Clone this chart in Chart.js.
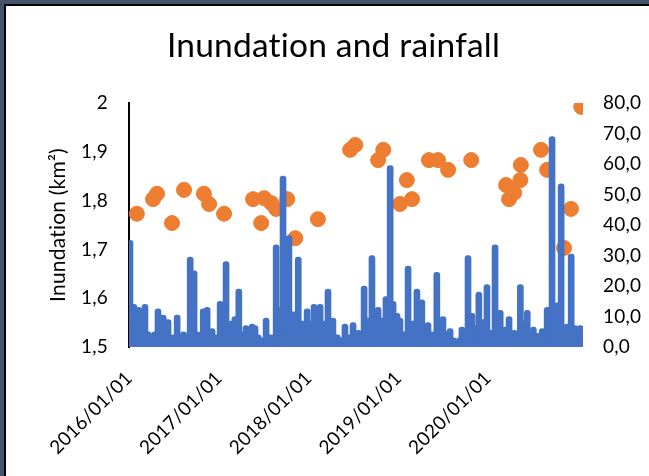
<!DOCTYPE html>
<html><head><meta charset="utf-8">
<script src="https://cdn.jsdelivr.net/npm/chart.js@4.4.1/dist/chart.umd.min.js"></script>
<style>
html,body{margin:0;padding:0;width:649px;height:476px;overflow:hidden;background:#44546A;}
#frame{position:absolute;left:4px;top:4px;width:645px;height:472px;background:#000;}
#inner{position:absolute;left:6px;top:6px;width:643px;height:470px;background:#fff;}
#wrap{position:absolute;left:0;top:0;width:649px;height:476px;}
</style></head><body>
<div id="frame"></div><div id="inner"></div>
<div id="wrap"><canvas id="c" width="649" height="476"></canvas></div>
<script>
// ---- data ----
const chartTitle = 'Inundation and rainfall';
const leftAxisTitle = 'Inundation (km\u00B2)';
const tickDates = ['2016-01-01','2017-01-01','2018-01-01','2019-01-01','2020-01-01'];
const tickLabels = ['2016/01/01','2017/01/01','2018/01/01','2019/01/01','2020/01/01'];
const axisStart = '2016-01-01';
const axisEnd = '2021-01-22';

// inundation (km2), orange markers
const inundDates = ['2016-02-02','2016-04-08','2016-04-24','2016-06-24','2016-08-12','2016-11-01','2016-11-22',
  '2017-01-22','2017-05-20','2017-06-22','2017-07-04','2017-08-02','2017-08-22','2017-10-06','2017-11-08',
  '2018-02-08','2018-06-19','2018-07-10','2018-10-11','2018-11-01',
  '2019-01-08','2019-02-05','2019-02-26','2019-05-06','2019-06-12','2019-07-23','2019-10-25',
  '2020-03-15','2020-03-27','2020-04-17','2020-05-12','2020-05-14','2020-08-04','2020-08-29','2020-11-06','2020-12-04',
  '2021-01-15'];
const inundVals = [1.773,1.803,1.814,1.754,1.822,1.814,1.793,
  1.773,1.803,1.754,1.805,1.795,1.783,1.803,1.723,
  1.762,1.904,1.914,1.883,1.904,
  1.793,1.842,1.803,1.883,1.883,1.863,1.883,
  1.832,1.803,1.816,1.842,1.873,1.904,1.863,1.703,1.783,
  1.992];

// rainfall (mm), blue
const rain2016 = [['2016-01-05',35],['2016-01-13',5],['2016-01-21',14],['2016-01-31',6],['2016-02-10',13],['2016-02-22',5],['2016-03-06',14],['2016-03-20',5],['2016-04-03',4],['2016-04-15',5],['2016-04-28',12.5],['2016-05-09',5],['2016-05-19',10.5],['2016-05-29',4],['2016-06-08',9],['2016-06-20',4],['2016-07-02',4],['2016-07-15',10.5],['2016-07-28',4],['2016-08-10',5],['2016-08-24',4],['2016-09-06',29.5],['2016-09-14',5],['2016-09-22',25],['2016-10-05',5],['2016-10-17',4],['2016-10-29',12.5],['2016-11-06',5],['2016-11-14',13],['2016-11-24',5],['2016-12-04',6],['2016-12-17',4],['2016-12-28',4]];
const rain2017 = [['2017-01-06',15],['2017-01-18',5],['2017-01-30',28],['2017-02-10',5],['2017-02-20',8.5],['2017-03-01',5],['2017-03-07',10],['2017-03-15',5],['2017-03-23',19],['2017-04-05',5],['2017-04-21',7],['2017-05-04',4],['2017-05-16',7.5],['2017-05-28',7],['2017-06-10',4],['2017-06-25',3],['2017-07-12',9.5],['2017-07-27',4],['2017-08-08',4],['2017-08-22',33.5],['2017-08-30',6],['2017-09-07',13],['2017-09-13',6],['2017-09-19',56],['2017-09-28',6],['2017-10-06',6],['2017-10-13',36.5],['2017-10-22',5],['2017-10-30',11.5],['2017-11-09',5],['2017-11-20',29.5],['2017-11-28',5],['2017-12-06',8.5],['2017-12-16',5],['2017-12-26',12.5]];
const rain2018 = [['2018-01-04',5],['2018-01-11',8.5],['2018-01-23',14],['2018-02-05',5],['2018-02-17',14],['2018-02-25',5],['2018-03-05',8.5],['2018-03-13',5],['2018-03-21',19],['2018-03-31',5],['2018-04-10',9.5],['2018-04-19',4],['2018-04-28',4],['2018-05-12',3],['2018-05-29',7.5],['2018-06-12',4],['2018-06-22',4],['2018-07-01',8],['2018-07-11',4],['2018-07-22',5.5],['2018-08-03',5],['2018-08-15',20],['2018-08-23',6],['2018-08-31',9.5],['2018-09-07',6],['2018-09-16',30],['2018-09-25',6],['2018-10-03',6],['2018-10-11',13],['2018-10-20',7],['2018-10-27',9.5],['2018-11-04',7],['2018-11-12',16.5],['2018-11-20',7],['2018-11-29',59.5],['2018-12-05',7],['2018-12-11',15],['2018-12-19',6],['2018-12-27',11]];
const rain2019 = [['2019-01-08',9.5],['2019-01-16',5],['2019-01-24',5],['2019-02-02',5],['2019-02-10',26.5],['2019-02-20',5],['2019-03-02',8.5],['2019-03-10',5],['2019-03-18',19],['2019-03-27',6],['2019-04-07',15.5],['2019-04-20',5],['2019-05-02',8],['2019-05-10',4],['2019-05-18',5],['2019-05-27',4],['2019-06-07',24.5],['2019-06-20',5],['2019-07-02',10],['2019-07-16',5],['2019-07-31',6],['2019-08-14',3],['2019-08-28',1.5],['2019-09-07',3],['2019-09-17',6.5],['2019-09-30',5],['2019-10-12',30],['2019-10-20',6],['2019-10-28',11],['2019-11-05',6],['2019-11-13',7],['2019-11-25',18],['2019-12-03',6],['2019-12-11',9],['2019-12-20',6],['2019-12-28',20.5]];
const rain2020 = [['2020-01-06',5],['2020-01-14',5.5],['2020-01-22',5],['2020-01-30',33.5],['2020-02-09',5],['2020-02-20',12],['2020-03-01',5],['2020-03-11',6.5],['2020-03-19',5],['2020-03-27',10],['2020-04-06',4],['2020-04-17',5.5],['2020-04-29',4],['2020-05-12',20.5],['2020-05-18',6],['2020-05-24',8.5],['2020-06-01',5],['2020-06-09',12],['2020-06-21',5],['2020-07-04',6.5],['2020-07-12',4],['2020-07-20',4.5],['2020-07-30',4],['2020-08-09',6],['2020-08-19',5],['2020-08-29',13],['2020-09-06',12],['2020-09-12',13],['2020-09-18',69],['2020-09-25',13],['2020-10-02',12],['2020-10-09',14.5],['2020-10-17',12],['2020-10-25',53.5],['2020-11-03',5],['2020-11-10',6],['2020-11-18',7.5],['2020-11-27',5],['2020-12-05',30.5],['2020-12-13',5],['2020-12-21',7],['2020-12-30',5]];
const rain2021 = [['2021-01-11',7],['2021-01-18',5]];

// ---- build ----
function dayNum(s){ const p = s.split('-').map(Number); return Date.UTC(p[0], p[1]-1, p[2]) / 86400000; }
const rainPoints = [].concat(rain2016, rain2017, rain2018, rain2019, rain2020, rain2021)
  .map(r => ({x: dayNum(r[0]), y: r[1]}));
const inundPoints = inundDates.map((d, i) => ({x: dayNum(d), y: inundVals[i]}));
const tickValues = tickDates.map(dayNum);

const FONT = 'Lato, "Open Sans", sans-serif';
const BLACK = '#000000';

// small letter spacing turns off the "ti" ligature of Lato
const noLigatures = {
  id: 'noLigatures',
  beforeDraw: chart => { try { chart.ctx.letterSpacing = '0.2px'; } catch (e) {} }
};

new Chart(document.getElementById('c'), {
  type: 'bar',
  plugins: [noLigatures],
  data: {
    datasets: [
      {
        type: 'scatter', label: 'Inundation', data: inundPoints,
        xAxisID: 'x', yAxisID: 'y', order: 2,
        backgroundColor: '#ED7D31', borderColor: '#ED7D31', borderWidth: 1,
        pointRadius: 7.5, pointHoverRadius: 7.5, showLine: false
      },
      {
        type: 'bar', label: 'Rainfall', data: rainPoints,
        xAxisID: 'x', yAxisID: 'y2', order: 1,
        backgroundColor: '#4472C4', borderWidth: 0,
        barThickness: 6, borderRadius: 3, borderSkipped: 'start', grouped: false
      }
    ]
  },
  options: {
    responsive: false, animation: false, devicePixelRatio: 1,
    layout: { padding: { left: 18, right: 0, top: 0, bottom: 0 } },
    plugins: {
      legend: { display: false }, tooltip: { enabled: false },
      title: {
        display: true, text: chartTitle, color: BLACK,
        font: { family: FONT, size: 33.5, weight: 'normal', lineHeight: 1.2 },
        padding: { top: 25.9, bottom: 36.9 }
      }
    },
    scales: {
      x: {
        type: 'linear', position: 'bottom', offset: false,
        min: dayNum(axisStart), max: dayNum(axisEnd),
        grid: { display: false, drawTicks: false }, border: { display: false },
        afterBuildTicks: s => { s.ticks = tickValues.map(v => ({ value: v })); },
        afterFit: s => { s.height = 129; },
        ticks: {
          autoSkip: false, minRotation: 45, maxRotation: 45, padding: 20,
          color: BLACK, font: { family: FONT, size: 19 },
          callback: (v, i) => tickLabels[i]
        }
      },
      y: {
        position: 'left', min: 1.5, max: 2,
        grid: { display: false, drawTicks: false },
        border: { display: true, color: BLACK, width: 2 },
        afterFit: s => { s.width = 111; },
        ticks: {
          stepSize: 0.1, padding: 21, color: BLACK, font: { family: FONT, size: 19 },
          callback: v => (Math.abs(v - 2) < 1e-9 ? '2' : (Math.round(v * 10) / 10).toFixed(1).replace('.', ','))
        },
        title: {
          display: true, text: leftAxisTitle, color: BLACK,
          font: { family: FONT, size: 21, lineHeight: 1.2 }, padding: { top: 28, bottom: 0 }
        }
      },
      y2: {
        position: 'right', min: 0, max: 80,
        grid: { display: false, drawTicks: false }, border: { display: false },
        afterFit: s => { s.width = 66; },
        ticks: {
          stepSize: 10, padding: 20, color: BLACK, font: { family: FONT, size: 19 },
          callback: v => v.toFixed(1).replace('.', ',')
        }
      }
    }
  }
});
</script>
</body></html>
